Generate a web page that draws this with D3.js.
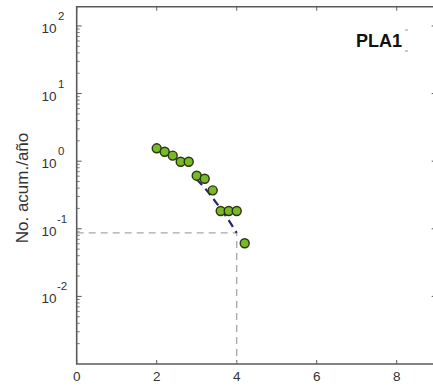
<!DOCTYPE html>
<html>
<head>
<meta charset="utf-8">
<script src="https://cdn.jsdelivr.net/npm/d3@7"></script>
<style>
  html, body { margin: 0; padding: 0; background: #fff; }
  svg { display: block; font-family: "Liberation Sans", Arial, sans-serif; }
</style>
</head>
<body>
<svg id="chart" width="433" height="389"></svg>
<script>
// Cumulative annual rate vs magnitude for the PLA1 source
const magnitudes = [2.0, 2.2, 2.4, 2.6, 2.8, 3.0, 3.2, 3.4, 3.6, 3.8, 4.0, 4.2];
const cumRates   = [1.55, 1.38, 1.21, 0.98, 0.98, 0.61, 0.55, 0.37, 0.183, 0.183, 0.183, 0.061];

// Fitted recurrence curve
const fitMag  = [3.0, 3.25, 3.5, 3.75, 4.0];
const fitRate = [0.54, 0.37, 0.238, 0.148, 0.087];

// Reference magnitude / rate marked with guide lines
const refMag = 4.0;
const refRate = 0.087;

const xTicks = [0, 2, 4, 6, 8];
const yExponents = [2, 1, 0, -1, -2];
const sourceName = "PLA1";
const yTitle = "No. acum./año";

const svg = d3.select("#chart");
const plotLeft = 76.7, plotRight = 436.7, plotTop = 6.7, plotBottom = 364;

const x = d3.scaleLinear().domain([0, 9]).range([plotLeft, plotRight]);
const y = d3.scaleLog().domain([1e-3, Math.pow(10, 2.285)]).range([plotBottom, plotTop]);

const axisColor = "#5a5a5a";

// Tick marks (inward) on all four sides
const minorVals = [];
for (let e = -3; e <= 2; e++) {
  for (let m = 2; m <= 9; m++) {
    const v = m * Math.pow(10, e);
    if (v < y.domain()[1]) minorVals.push(v);
  }
}
const majorVals = yExponents.map(e => Math.pow(10, e));

const ticks = svg.append("g").attr("stroke", axisColor).attr("stroke-width", 1);
majorVals.forEach(v => {
  ticks.append("line").attr("x1", plotLeft).attr("x2", plotLeft + 5).attr("y1", y(v)).attr("y2", y(v));
  ticks.append("line").attr("x1", plotRight).attr("x2", plotRight - 5).attr("y1", y(v)).attr("y2", y(v));
});
minorVals.forEach(v => {
  ticks.append("line").attr("x1", plotLeft).attr("x2", plotLeft + 3).attr("y1", y(v)).attr("y2", y(v)).attr("stroke-width", 0.8);
  ticks.append("line").attr("x1", plotRight).attr("x2", plotRight - 3).attr("y1", y(v)).attr("y2", y(v)).attr("stroke-width", 0.8);
});
xTicks.forEach(v => {
  ticks.append("line").attr("x1", x(v)).attr("x2", x(v)).attr("y1", plotBottom).attr("y2", plotBottom - 4);
  ticks.append("line").attr("x1", x(v)).attr("x2", x(v)).attr("y1", plotTop).attr("y2", plotTop + 4);
});

// Guide lines for the reference value
svg.append("path")
  .attr("d", d3.line()([[x(0), y(refRate)], [x(refMag), y(refRate)], [x(refMag), y(1e-3)]]))
  .attr("fill", "none")
  .attr("stroke", "#a8a8a8")
  .attr("stroke-width", 1.3)
  .attr("stroke-dasharray", "7,5");

// Fitted curve
svg.append("path")
  .datum(fitMag.map((m, i) => [m, fitRate[i]]))
  .attr("d", d3.line().x(d => x(d[0])).y(d => y(d[1])).curve(d3.curveMonotoneX))
  .attr("fill", "none")
  .attr("stroke", "#24266f")
  .attr("stroke-width", 2.2)
  .attr("stroke-dasharray", "8,5");

// Observed points
svg.append("g").selectAll("circle")
  .data(magnitudes.map((m, i) => [m, cumRates[i]]))
  .join("circle")
  .attr("cx", d => x(d[0]))
  .attr("cy", d => y(d[1]))
  .attr("r", 4.5)
  .attr("fill", "#78b82a")
  .attr("stroke", "#28350f")
  .attr("stroke-width", 1.4);

// Frame
svg.append("path")
  .attr("d", `M${plotRight},${plotTop}H${plotLeft}V${plotBottom}H${plotRight}Z`)
  .attr("fill", "none")
  .attr("stroke", axisColor)
  .attr("stroke-width", 1.6);

// X tick labels
svg.append("g").selectAll("text")
  .data(xTicks)
  .join("text")
  .attr("x", d => x(d))
  .attr("y", plotBottom + 17)
  .attr("text-anchor", "middle")
  .attr("font-size", 13.5)
  .attr("fill", "#333")
  .text(d => d);

// Y tick labels: 10 with a superscript exponent
const yl = svg.append("g").attr("fill", "#333");
yExponents.forEach(e => {
  const ty = y(Math.pow(10, e));
  yl.append("text")
    .attr("x", 56.5).attr("y", ty + 7)
    .attr("text-anchor", "end")
    .attr("font-size", 13.5)
    .text("10");
  yl.append("text")
    .attr("x", e < 0 ? 57 : 58).attr("y", ty - 6)
    .attr("text-anchor", "start")
    .attr("font-size", 11.5)
    .text(e);
});

// Y axis title
svg.append("text")
  .attr("transform", `translate(28,188) rotate(-90)`)
  .attr("text-anchor", "middle")
  .attr("font-size", 17)
  .attr("fill", "#333")
  .text(yTitle);

// Source label
svg.append("text")
  .attr("x", 402).attr("y", 47)
  .attr("text-anchor", "end")
  .attr("font-size", 18)
  .attr("font-weight", "bold")
  .attr("fill", "#111")
  .text(sourceName);
svg.append("g").attr("stroke", "#999").attr("stroke-width", 1)
  .selectAll("line").data([30, 51]).join("line")
  .attr("x1", 405).attr("x2", 408).attr("y1", d => d).attr("y2", d => d);
</script>
</body>
</html>
